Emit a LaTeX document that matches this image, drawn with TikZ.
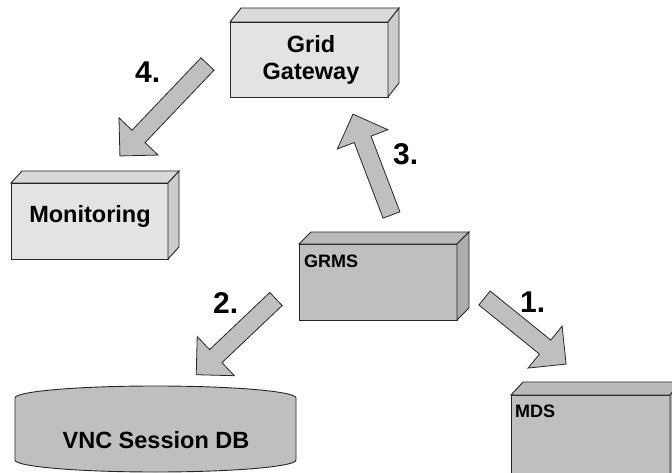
\documentclass[tikz,border=0pt]{standalone}
\usepackage{fontspec}
\setmainfont{Liberation Sans}
\begin{document}
\begin{tikzpicture}[x=1pt,y=1pt,
  edge/.style={draw=black!85, line width=0.9pt, line join=miter},
  lightface/.style={edge, fill=black!11},
  lighttop/.style={edge, fill=black!15},
  lightside/.style={edge, fill=black!20},
  darkface/.style={edge, fill=black!25},
  darktop/.style={edge, fill=black!27},
  darkside/.style={edge, fill=black!32},
  front/.style={rectangle, inner sep=0pt, outer sep=0pt},
  bigtxt/.style={font=\fontsize{23.5}{27}\selectfont\bfseries, inner sep=0pt},
  smalltxt/.style={font=\fontsize{18}{21}\selectfont\bfseries, inner sep=0pt},
  steptxt/.style={font=\fontsize{30}{33}\selectfont\bfseries, inner sep=0pt},
  blockarrow/.style={edge, fill=black!25, line width=0.8pt}
]
\useasboundingbox (0,0) rectangle (672,472);
\clip (0,0) rectangle (672,472);

% fat arrow: tail point, direction angle, length
\newcommand{\fatarrow}[3]{%
  \draw[blockarrow, shift={#1}, rotate=#2]
    (0,-9) -- (#3-27,-9) -- (#3-27,-27) -- (#3,0) -- (#3-27,27) -- (#3-27,9) -- (0,9) -- cycle;}

% Grid Gateway box
\node[front, lightface, minimum width=158pt, minimum height=75pt, anchor=south west] (gg) at (230,375) {};
\draw[lighttop] (gg.north west) -- ++(11,14) -- ++(158,0) -- (gg.north east) -- cycle;
\draw[lightside] (gg.north east) -- ++(11,14) -- ++(0,-75) -- (gg.south east) -- cycle;
\node[bigtxt, anchor=base] (ggname) at (311,419) {Grid};
\node[bigtxt, anchor=base] (ggname2) at (311,392) {Gateway};

% Monitoring box
\node[front, lightface, minimum width=157pt, minimum height=76pt, anchor=south west] (mon) at (11,213) {};
\draw[lighttop] (mon.north west) -- ++(11,12) -- ++(157,0) -- (mon.north east) -- cycle;
\draw[lightside] (mon.north east) -- ++(11,12) -- ++(0,-76) -- (mon.south east) -- cycle;
\node[bigtxt, anchor=base] (monname) at (90,249) {Monitoring};

% GRMS box
\node[front, darkface, minimum width=158pt, minimum height=76pt, anchor=south west] (grms) at (299,152) {};
\draw[darktop] (grms.north west) -- ++(12,12) -- ++(158,0) -- (grms.north east) -- cycle;
\draw[darkside] (grms.north east) -- ++(12,12) -- ++(0,-76) -- (grms.south east) -- cycle;
\node[smalltxt, anchor=base west] (grmsname) at (304,205) {GRMS};

% MDS box
\node[front, darkface, minimum width=159pt, minimum height=90pt, anchor=south west] (mds) at (511,-13) {};
\draw[darktop] (mds.north west) -- ++(12,13) -- ++(159,0) -- (mds.north east) -- cycle;
\draw[darkside] (mds.north east) -- ++(12,13) -- ++(0,-90) -- (mds.south east) -- cycle;
\node[smalltxt, anchor=base west] (mdsname) at (515,55) {MDS};

% VNC Session DB cylinder
\draw[edge, fill=black!25] (15,74) -- (15,12)
  arc[start angle=180, end angle=360, x radius=140.5, y radius=12]
  -- (296,74)
  arc[start angle=0, end angle=180, x radius=140.5, y radius=12] -- cycle;
\node[bigtxt, anchor=base] (dbname) at (156,24) {VNC Session DB};

% numbered steps
\fatarrow{(484.5,174)}{-39}{105}
\fatarrow{(276,173)}{223.5}{110}
\fatarrow{(391.5,257)}{110.9}{108}
\fatarrow{(207.5,408)}{226.4}{127}
\node[steptxt, anchor=base west] (s1) at (520,160) {1.};
\node[steptxt, anchor=base west] (s2) at (213,159) {2.};
\node[steptxt, anchor=base west] (s3) at (393,307) {3.};
\node[steptxt, anchor=base west] (s4) at (135,389) {4.};
\end{tikzpicture}
\end{document}
